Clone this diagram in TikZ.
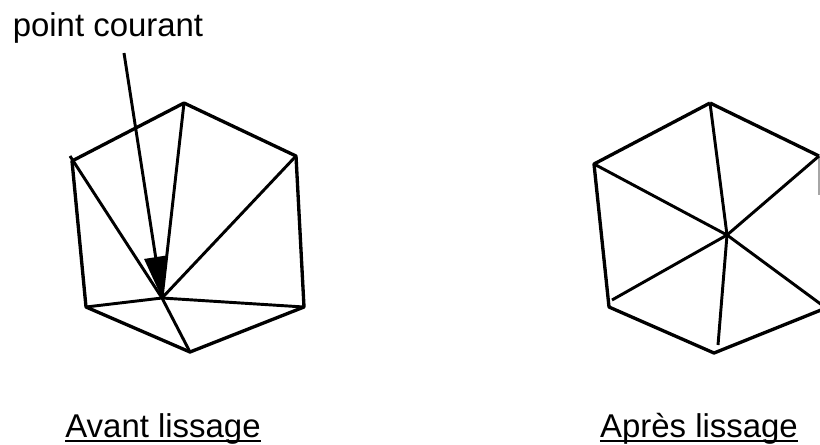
\documentclass[tikz,border=0pt]{standalone}
\usepackage{fontspec}
\setmainfont{Liberation Sans}
\usetikzlibrary{arrows.meta,positioning,calc}

\begin{document}
\begin{tikzpicture}[x=0.75pt,y=-0.75pt,
	maille/.style={line width=2.5pt,line join=round},
	rayon/.style={line width=2.2pt},
	souligne/.style={line width=1.8pt},
	legende/.style={font=\fontsize{24.7}{29}\selectfont,inner sep=0pt,anchor=base}]
		
		\useasboundingbox (0,0) rectangle (820,444);
		
		% avant lissage
		\coordinate (A1) at (184,103);
		\coordinate (A2) at (296,156);
		\coordinate (A3) at (304,307);
		\coordinate (A4) at (190,352);
		\coordinate (A5) at (86,307);
		\coordinate (A6) at (72,161);
		\coordinate (A0) at (162,298);
		\coordinate (Afin) at (70,156);
		\coordinate (Fl) at (124,53);
		
		\draw[maille] (A1)--(A2)--(A3)--(A4)--(A5)--(A6)--cycle;
		\draw[rayon] (A0)--(A1);
		\draw[rayon] (A0)--(A2);
		\draw[rayon] (A0)--(A3);
		\draw[rayon] (A0)--(A4);
		\draw[rayon] (A0)--(A5);
		\draw[rayon] (A0)--(Afin);
		
		\draw[-{Triangle[length=31pt,width=17pt]},line width=2.2pt] (Fl)--(A0);
		
		% apres lissage
		\coordinate (B1) at (710,103);
		\coordinate (B2) at (819,156);
		\coordinate (B3) at (826,308);
		\coordinate (B4) at (714,353);
		\coordinate (B5) at (609,307);
		\coordinate (B6) at (594,164);
		\coordinate (B0) at (727,235);
		\coordinate (B4f) at (718,345);
		\coordinate (B5f) at (612,300);
		\coordinate (B2f) at (819,195);
		
		\draw[maille] (B1)--(B2);
		\draw[maille] (B3)--(B4)--(B5)--(B6)--(B1);
		\draw[black!35,line width=1pt] (B2)--(B2f);
		\draw[rayon] (B0)--(B1);
		\draw[rayon] (B0)--(B2);
		\draw[rayon] (B0)--(B3);
		\draw[rayon] (B0)--(B4f);
		\draw[rayon] (B0)--(B5f);
		\draw[rayon] (B0)--(B6);
		
		\node[legende] (courant) at (108,36) {point courant};
		\node[legende] (avant) at (163,437) {Avant lissage};
		\node[legende] (apres) at (699,437) {Après lissage};
		
		\draw[souligne] ($(avant.base west)+(0,4)$)--($(avant.base east)+(0,4)$);
		\draw[souligne] ($(apres.base west)+(0,4)$)--($(apres.base east)+(0,4)$);
		
	\end{tikzpicture}
\end{document}
